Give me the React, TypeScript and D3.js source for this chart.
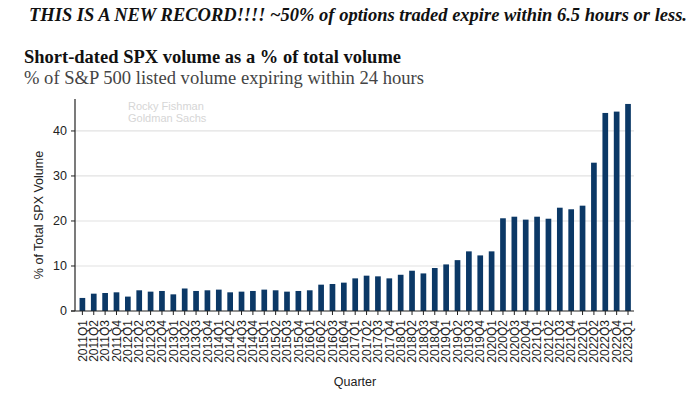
import React from "react";
import * as d3 from "d3";

const quarters: string[] = [];
for (let y = 2011; y <= 2023; y++) {
  for (let q = 1; q <= 4; q++) {
    if (y === 2023 && q > 1) break;
    quarters.push(`${y}Q${q}`);
  }
}

const shortDatedShare = [
  2.9, 3.85, 4.0, 4.15, 3.2, 4.6, 4.3, 4.45,
  3.7, 5.0, 4.45, 4.6, 4.75, 4.15, 4.3, 4.45,
  4.75, 4.6, 4.3, 4.45, 4.6, 5.85, 6.0, 6.3,
  7.25, 7.85, 7.7, 7.25, 8.05, 8.95, 8.35, 9.55,
  10.35, 11.3, 13.25, 12.35, 13.25, 20.6, 20.95, 20.3,
  20.95, 20.5, 22.95, 22.6, 23.4, 32.95, 44.0, 44.3, 46.0,
];

const yTicks = [0, 10, 20, 30, 40];

const headline = "THIS IS A NEW RECORD!!!! ~50% of options traded expire within 6.5 hours or less.";
const chartTitle = "Short-dated SPX volume as a % of total volume";
const chartSubtitle = "% of S&P 500 listed volume expiring within 24 hours";
const watermark = ["Rocky Fishman", "Goldman Sachs"];
const yLabel = "% of Total SPX Volume";
const xLabel = "Quarter";

const W = 700;
const H = 394;
const plot = { left: 75, right: 634, top: 99, bottom: 311 };

export default function App() {
  const x = d3
    .scaleBand<string>()
    .domain(quarters)
    .range([76.7, 633.7])
    .paddingInner(0.5)
    .paddingOuter(0.25);
  const y = d3.scaleLinear().domain([0, 47.1]).range([plot.bottom, plot.top]);
  const sans = "'Liberation Sans', Arial, sans-serif";
  const serif = "'Liberation Serif', 'Times New Roman', serif";

  return (
    <div style={{ position: "absolute", left: 0, top: 0, width: W, height: H, background: "#fff" }}>
      <svg width={W} height={H} style={{ display: "block" }}>
        <rect width={W} height={H} fill="#fff" />
        <text x={29} y={21} fontFamily={serif} fontSize={18.5} fontWeight="bold" fontStyle="italic" fill="#111"
          textLength={658} lengthAdjust="spacingAndGlyphs">
          {headline}
        </text>
        <text x={24} y={63} fontFamily={serif} fontSize={18.5} fontWeight="bold" fill="#111"
          textLength={377} lengthAdjust="spacingAndGlyphs">
          {chartTitle}
        </text>
        <text x={24} y={84} fontFamily={serif} fontSize={18.5} fill="#444"
          textLength={400} lengthAdjust="spacingAndGlyphs">
          {chartSubtitle}
        </text>
        {watermark.map((t, i) => (
          <text key={t} x={128} y={110 + i * 12} fontFamily={sans} fontSize={11} fill="#d6d6d6">
            {t}
          </text>
        ))}
        {yTicks.filter((t) => t > 0).map((t) => (
          <line key={t} x1={plot.left} x2={plot.right} y1={y(t)} y2={y(t)} stroke="#e2e2e2" strokeWidth={1.2} />
        ))}
        {quarters.map((q, i) => (
          <rect
            key={q}
            x={x(q)}
            y={y(shortDatedShare[i])}
            width={x.bandwidth()}
            height={y(0) - y(shortDatedShare[i])}
            fill="#0b3866"
          />
        ))}
        <line x1={plot.left} x2={plot.left} y1={plot.top} y2={plot.bottom} stroke="#222" strokeWidth={1.2} />
        <line x1={plot.left - 4} x2={plot.right} y1={plot.bottom} y2={plot.bottom} stroke="#222" strokeWidth={1.2} />
        {yTicks.map((t) => (
          <g key={t}>
            <line x1={plot.left - 4} x2={plot.left} y1={y(t)} y2={y(t)} stroke="#222" />
            <text x={plot.left - 8} y={y(t)} dy="0.35em" textAnchor="end" fontFamily={sans} fontSize={12.5} fill="#222">
              {t}
            </text>
          </g>
        ))}
        {quarters.map((q) => {
          const cx = (x(q) ?? 0) + x.bandwidth() / 2;
          return (
            <g key={q}>
              <line x1={cx} x2={cx} y1={plot.bottom} y2={plot.bottom + 4} stroke="#222" />
              <text
                transform={`translate(${cx},${plot.bottom + 9}) rotate(-90)`}
                textAnchor="end"
                dy="0.35em"
                fontFamily={sans}
                fontSize={12}
                fill="#222"
              >
                {q}
              </text>
            </g>
          );
        })}
        <text
          transform={`translate(43,${(plot.top + plot.bottom) / 2 + 10}) rotate(-90)`}
          textAnchor="middle"
          fontFamily={sans}
          fontSize={12.5}
          fill="#222"
        >
          {yLabel}
        </text>
        <text x={355} y={386} textAnchor="middle" fontFamily={sans} fontSize={12.5} fill="#222">
          {xLabel}
        </text>
      </svg>
    </div>
  );
}
